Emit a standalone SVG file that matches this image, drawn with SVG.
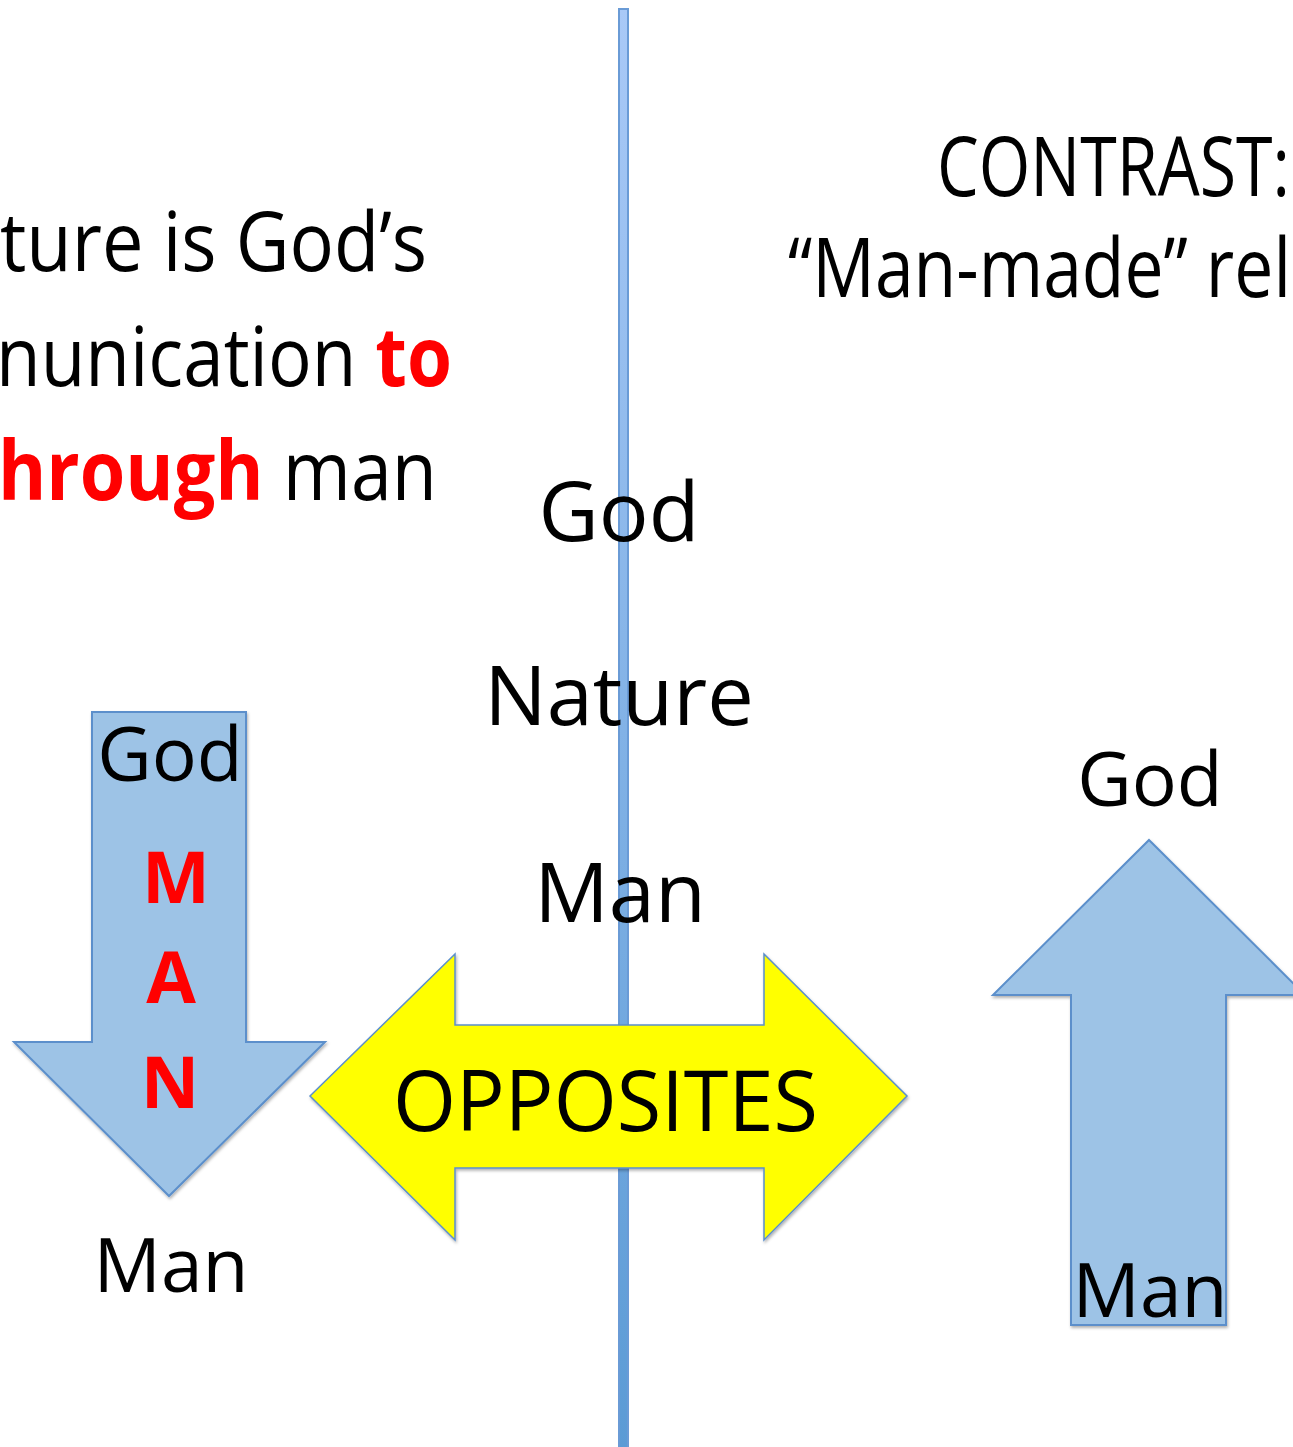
<svg xmlns="http://www.w3.org/2000/svg" width="1293" height="1447" viewBox="0 0 1293 1447">
<style>
.t{font-family:"Open Sans","Noto Sans",sans-serif;fill:#000}
.b{font-weight:bold;fill:#ff0000}
.arrow{fill:#9dc3e6;stroke:#5b8fcb;stroke-width:2}
</style>
<defs>
<linearGradient id="lg" x1="0" y1="0" x2="0" y2="1">
<stop offset="0" stop-color="#a9c9f7"/>
<stop offset="1" stop-color="#5b9bd5"/>
</linearGradient>
<filter id="sh" x="-10%" y="-10%" width="130%" height="130%">
<feDropShadow dx="1" dy="2" stdDeviation="1.5" flood-color="#000" flood-opacity="0.3"/>
</filter>
</defs>
<rect width="1293" height="1447" fill="#fff"/>
<g id="divider">
<rect x="619" y="9" width="9" height="1440" fill="url(#lg)" stroke="#6a9bd6" stroke-width="2"/>
</g>
<g id="left-text" class="t" font-size="83">
<text x="0" y="271" textLength="427" lengthAdjust="spacingAndGlyphs">ture is God’s</text>
<text x="-4" y="386" textLength="456" lengthAdjust="spacingAndGlyphs">nunication <tspan class="b">to</tspan></text>
<text x="-2" y="500" textLength="439" lengthAdjust="spacingAndGlyphs"><tspan class="b">hrough</tspan> man</text>
</g>
<g id="right-text" class="t" font-size="83">
<text x="937" y="196" textLength="353" lengthAdjust="spacingAndGlyphs">CONTRAST:</text>
<text x="788" y="297" textLength="503" lengthAdjust="spacingAndGlyphs">“Man-made” rel</text>
</g>
<g id="down-arrow">
<polygon class="arrow" filter="url(#sh)" points="92,712 246,712 246,1042 325,1042 169,1196 14,1042 92,1042"/>
<text class="t" x="170" y="781" font-size="75" text-anchor="middle">God</text>
<text class="t b" x="176" y="903" font-size="72" text-anchor="middle">M</text>
<text class="t b" x="171" y="1003" font-size="72" text-anchor="middle">A</text>
<text class="t b" x="170" y="1108" font-size="72" text-anchor="middle">N</text>
</g>
<text id="man-left" class="t" x="171" y="1292" font-size="75" text-anchor="middle">Man</text>
<g id="opposites">
<polygon filter="url(#sh)" fill="#ffff00" stroke="#5b8fcb" stroke-width="1.5" points="310,1096 455,954 455,1025 764,1025 764,954 907,1096 764,1240 764,1168 455,1168 455,1240"/>
<text class="t" x="393" y="1131" font-size="84" textLength="425" lengthAdjust="spacingAndGlyphs">OPPOSITES</text>
</g>
<g id="center-stack" class="t" font-size="83" text-anchor="middle">
<text x="619" y="541">God</text>
<text x="619" y="725">Nature</text>
<text x="620" y="922">Man</text>
</g>
<text id="god-right" class="t" x="1150" y="806" font-size="75" text-anchor="middle">God</text>
<g id="up-arrow">
<polygon class="arrow" filter="url(#sh)" points="1149,840 1305,995 1226,995 1226,1325 1071,1325 1071,995 993,995"/>
<text class="t" x="1150" y="1317" font-size="75" text-anchor="middle">Man</text>
</g>
</svg>
